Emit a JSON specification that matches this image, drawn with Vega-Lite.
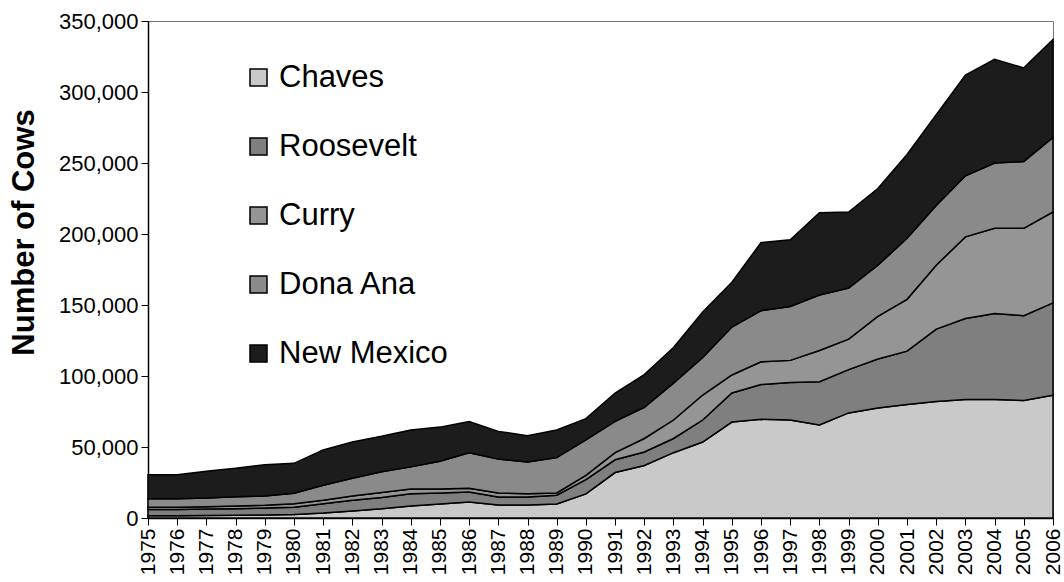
{
  "$schema": "https://vega.github.io/schema/vega-lite/v6.json",
  "autosize": "none",
  "width": 905,
  "height": 497,
  "padding": {"left": 148, "top": 21, "right": 11, "bottom": 64},
  "background": "white",
  "config": {
    "font": "Liberation Sans",
    "view": {"stroke": "#777777", "strokeWidth": 1},
    "axis": {"labelColor": "black", "titleColor": "black", "domainColor": "black", "tickColor": "black", "grid": false}
  },
  "datasets": {
    "stackOrder": [
      {"county": "Chaves", "rank": 1},
      {"county": "Roosevelt", "rank": 2},
      {"county": "Curry", "rank": 3},
      {"county": "Dona Ana", "rank": 4},
      {"county": "New Mexico", "rank": 5}
    ]
  },
  "data": {"values": [
    {"year": 1975, "county": "Chaves", "cows": 1500}, {"year": 1975, "county": "Roosevelt", "cows": 4500}, {"year": 1975, "county": "Curry", "cows": 1500}, {"year": 1975, "county": "Dona Ana", "cows": 6000}, {"year": 1975, "county": "New Mexico", "cows": 17000},
    {"year": 1976, "county": "Chaves", "cows": 1500}, {"year": 1976, "county": "Roosevelt", "cows": 4500}, {"year": 1976, "county": "Curry", "cows": 1500}, {"year": 1976, "county": "Dona Ana", "cows": 6000}, {"year": 1976, "county": "New Mexico", "cows": 17000},
    {"year": 1977, "county": "Chaves", "cows": 1800}, {"year": 1977, "county": "Roosevelt", "cows": 4500}, {"year": 1977, "county": "Curry", "cows": 1700}, {"year": 1977, "county": "Dona Ana", "cows": 6000}, {"year": 1977, "county": "New Mexico", "cows": 19000},
    {"year": 1978, "county": "Chaves", "cows": 2000}, {"year": 1978, "county": "Roosevelt", "cows": 4500}, {"year": 1978, "county": "Curry", "cows": 2000}, {"year": 1978, "county": "Dona Ana", "cows": 6500}, {"year": 1978, "county": "New Mexico", "cows": 20000},
    {"year": 1979, "county": "Chaves", "cows": 2200}, {"year": 1979, "county": "Roosevelt", "cows": 4800}, {"year": 1979, "county": "Curry", "cows": 2000}, {"year": 1979, "county": "Dona Ana", "cows": 6500}, {"year": 1979, "county": "New Mexico", "cows": 22000},
    {"year": 1980, "county": "Chaves", "cows": 2500}, {"year": 1980, "county": "Roosevelt", "cows": 5000}, {"year": 1980, "county": "Curry", "cows": 2500}, {"year": 1980, "county": "Dona Ana", "cows": 7500}, {"year": 1980, "county": "New Mexico", "cows": 21000},
    {"year": 1981, "county": "Chaves", "cows": 3500}, {"year": 1981, "county": "Roosevelt", "cows": 6500}, {"year": 1981, "county": "Curry", "cows": 2500}, {"year": 1981, "county": "Dona Ana", "cows": 10500}, {"year": 1981, "county": "New Mexico", "cows": 25000},
    {"year": 1982, "county": "Chaves", "cows": 5000}, {"year": 1982, "county": "Roosevelt", "cows": 7500}, {"year": 1982, "county": "Curry", "cows": 3000}, {"year": 1982, "county": "Dona Ana", "cows": 12500}, {"year": 1982, "county": "New Mexico", "cows": 25500},
    {"year": 1983, "county": "Chaves", "cows": 6500}, {"year": 1983, "county": "Roosevelt", "cows": 8000}, {"year": 1983, "county": "Curry", "cows": 3500}, {"year": 1983, "county": "Dona Ana", "cows": 14500}, {"year": 1983, "county": "New Mexico", "cows": 25000},
    {"year": 1984, "county": "Chaves", "cows": 8500}, {"year": 1984, "county": "Roosevelt", "cows": 8500}, {"year": 1984, "county": "Curry", "cows": 3400}, {"year": 1984, "county": "Dona Ana", "cows": 15600}, {"year": 1984, "county": "New Mexico", "cows": 26000},
    {"year": 1985, "county": "Chaves", "cows": 9900}, {"year": 1985, "county": "Roosevelt", "cows": 7700}, {"year": 1985, "county": "Curry", "cows": 2800}, {"year": 1985, "county": "Dona Ana", "cows": 19600}, {"year": 1985, "county": "New Mexico", "cows": 24000},
    {"year": 1986, "county": "Chaves", "cows": 11300}, {"year": 1986, "county": "Roosevelt", "cows": 7000}, {"year": 1986, "county": "Curry", "cows": 2700}, {"year": 1986, "county": "Dona Ana", "cows": 25000}, {"year": 1986, "county": "New Mexico", "cows": 22000},
    {"year": 1987, "county": "Chaves", "cows": 9200}, {"year": 1987, "county": "Roosevelt", "cows": 5600}, {"year": 1987, "county": "Curry", "cows": 2800}, {"year": 1987, "county": "Dona Ana", "cows": 23900}, {"year": 1987, "county": "New Mexico", "cows": 19500},
    {"year": 1988, "county": "Chaves", "cows": 9200}, {"year": 1988, "county": "Roosevelt", "cows": 5600}, {"year": 1988, "county": "Curry", "cows": 2200}, {"year": 1988, "county": "Dona Ana", "cows": 22500}, {"year": 1988, "county": "New Mexico", "cows": 18500},
    {"year": 1989, "county": "Chaves", "cows": 9900}, {"year": 1989, "county": "Roosevelt", "cows": 6100}, {"year": 1989, "county": "Curry", "cows": 1600}, {"year": 1989, "county": "Dona Ana", "cows": 24900}, {"year": 1989, "county": "New Mexico", "cows": 19500},
    {"year": 1990, "county": "Chaves", "cows": 17000}, {"year": 1990, "county": "Roosevelt", "cows": 10000}, {"year": 1990, "county": "Curry", "cows": 3000}, {"year": 1990, "county": "Dona Ana", "cows": 25000}, {"year": 1990, "county": "New Mexico", "cows": 15000},
    {"year": 1991, "county": "Chaves", "cows": 32000}, {"year": 1991, "county": "Roosevelt", "cows": 9000}, {"year": 1991, "county": "Curry", "cows": 5000}, {"year": 1991, "county": "Dona Ana", "cows": 22000}, {"year": 1991, "county": "New Mexico", "cows": 20000},
    {"year": 1992, "county": "Chaves", "cows": 37000}, {"year": 1992, "county": "Roosevelt", "cows": 9500}, {"year": 1992, "county": "Curry", "cows": 9500}, {"year": 1992, "county": "Dona Ana", "cows": 22000}, {"year": 1992, "county": "New Mexico", "cows": 23000},
    {"year": 1993, "county": "Chaves", "cows": 46000}, {"year": 1993, "county": "Roosevelt", "cows": 10000}, {"year": 1993, "county": "Curry", "cows": 13000}, {"year": 1993, "county": "Dona Ana", "cows": 26000}, {"year": 1993, "county": "New Mexico", "cows": 25000},
    {"year": 1994, "county": "Chaves", "cows": 53500}, {"year": 1994, "county": "Roosevelt", "cows": 15500}, {"year": 1994, "county": "Curry", "cows": 17600}, {"year": 1994, "county": "Dona Ana", "cows": 26400}, {"year": 1994, "county": "New Mexico", "cows": 32000},
    {"year": 1995, "county": "Chaves", "cows": 67600}, {"year": 1995, "county": "Roosevelt", "cows": 20400}, {"year": 1995, "county": "Curry", "cows": 12700}, {"year": 1995, "county": "Dona Ana", "cows": 33800}, {"year": 1995, "county": "New Mexico", "cows": 31500},
    {"year": 1996, "county": "Chaves", "cows": 69500}, {"year": 1996, "county": "Roosevelt", "cows": 24500}, {"year": 1996, "county": "Curry", "cows": 16000}, {"year": 1996, "county": "Dona Ana", "cows": 36000}, {"year": 1996, "county": "New Mexico", "cows": 48000},
    {"year": 1997, "county": "Chaves", "cows": 69000}, {"year": 1997, "county": "Roosevelt", "cows": 26500}, {"year": 1997, "county": "Curry", "cows": 15500}, {"year": 1997, "county": "Dona Ana", "cows": 38000}, {"year": 1997, "county": "New Mexico", "cows": 47000},
    {"year": 1998, "county": "Chaves", "cows": 65500}, {"year": 1998, "county": "Roosevelt", "cows": 30500}, {"year": 1998, "county": "Curry", "cows": 22000}, {"year": 1998, "county": "Dona Ana", "cows": 39000}, {"year": 1998, "county": "New Mexico", "cows": 58000},
    {"year": 1999, "county": "Chaves", "cows": 74000}, {"year": 1999, "county": "Roosevelt", "cows": 30500}, {"year": 1999, "county": "Curry", "cows": 21500}, {"year": 1999, "county": "Dona Ana", "cows": 36000}, {"year": 1999, "county": "New Mexico", "cows": 53500},
    {"year": 2000, "county": "Chaves", "cows": 77500}, {"year": 2000, "county": "Roosevelt", "cows": 34500}, {"year": 2000, "county": "Curry", "cows": 30000}, {"year": 2000, "county": "Dona Ana", "cows": 36000}, {"year": 2000, "county": "New Mexico", "cows": 54000},
    {"year": 2001, "county": "Chaves", "cows": 80000}, {"year": 2001, "county": "Roosevelt", "cows": 37500}, {"year": 2001, "county": "Curry", "cows": 36500}, {"year": 2001, "county": "Dona Ana", "cows": 43000}, {"year": 2001, "county": "New Mexico", "cows": 59000},
    {"year": 2002, "county": "Chaves", "cows": 82000}, {"year": 2002, "county": "Roosevelt", "cows": 51000}, {"year": 2002, "county": "Curry", "cows": 45000}, {"year": 2002, "county": "Dona Ana", "cows": 42000}, {"year": 2002, "county": "New Mexico", "cows": 64000},
    {"year": 2003, "county": "Chaves", "cows": 83500}, {"year": 2003, "county": "Roosevelt", "cows": 57000}, {"year": 2003, "county": "Curry", "cows": 57500}, {"year": 2003, "county": "Dona Ana", "cows": 43000}, {"year": 2003, "county": "New Mexico", "cows": 71000},
    {"year": 2004, "county": "Chaves", "cows": 83500}, {"year": 2004, "county": "Roosevelt", "cows": 60500}, {"year": 2004, "county": "Curry", "cows": 60000}, {"year": 2004, "county": "Dona Ana", "cows": 46000}, {"year": 2004, "county": "New Mexico", "cows": 73000},
    {"year": 2005, "county": "Chaves", "cows": 82800}, {"year": 2005, "county": "Roosevelt", "cows": 59700}, {"year": 2005, "county": "Curry", "cows": 61500}, {"year": 2005, "county": "Dona Ana", "cows": 47000}, {"year": 2005, "county": "New Mexico", "cows": 66000},
    {"year": 2006, "county": "Chaves", "cows": 86500}, {"year": 2006, "county": "Roosevelt", "cows": 65000}, {"year": 2006, "county": "Curry", "cows": 64000}, {"year": 2006, "county": "Dona Ana", "cows": 52500}, {"year": 2006, "county": "New Mexico", "cows": 69000}
  ]},
  "transform": [
    {"lookup": "county", "from": {"data": {"name": "stackOrder"}, "key": "county", "fields": ["rank"]}}
  ],
  "mark": {"type": "area", "stroke": "black", "strokeWidth": 1.5, "strokeJoin": "miter"},
  "encoding": {
    "x": {
      "field": "year", "type": "quantitative",
      "scale": {"domain": [1975, 2006], "nice": false, "zero": false},
      "axis": {
        "title": null,
        "values": [1975,1976,1977,1978,1979,1980,1981,1982,1983,1984,1985,1986,1987,1988,1989,1990,1991,1992,1993,1994,1995,1996,1997,1998,1999,2000,2001,2002,2003,2004,2005,2006],
        "format": "d", "labelAngle": -90, "labelFontSize": 21, "labelFlush": false, "labelOverlap": false,
        "tickSize": 7, "labelPadding": 3, "domainWidth": 1.5, "tickWidth": 1
      }
    },
    "y": {
      "field": "cows", "type": "quantitative",
      "stack": "zero",
      "scale": {"domain": [0, 350000], "nice": false},
      "axis": {
        "title": "Number of Cows", "titleFontSize": 31, "titleFontWeight": "bold", "titlePadding": 18,
        "titleAnchor": "middle", "titleY": 211,
        "values": [0, 50000, 100000, 150000, 200000, 250000, 300000, 350000],
        "format": ",d", "labelFontSize": 22, "tickSize": 7, "labelPadding": 3, "domainWidth": 1.5
      }
    },
    "order": {"field": "rank", "type": "quantitative", "sort": "ascending"},
    "color": {
      "field": "county", "type": "nominal",
      "sort": ["Chaves", "Roosevelt", "Curry", "Dona Ana", "New Mexico"],
      "scale": {
        "domain": ["Chaves", "Roosevelt", "Curry", "Dona Ana", "New Mexico"],
        "range": ["#c9c9c9", "#7f7f7f", "#959595", "#8a8a8a", "#1c1c1c"]
      },
      "legend": {
        "title": null, "orient": "none", "legendX": 95, "legendY": 41,
        "symbolType": "square", "symbolSize": 289, "symbolStrokeColor": "black", "symbolStrokeWidth": 1.5, "symbolOpacity": 1,
        "labelFontSize": 31, "labelColor": "black", "labelOffset": 5, "labelLimit": 400, "rowPadding": 37, "padding": 0
      }
    }
  }
}
